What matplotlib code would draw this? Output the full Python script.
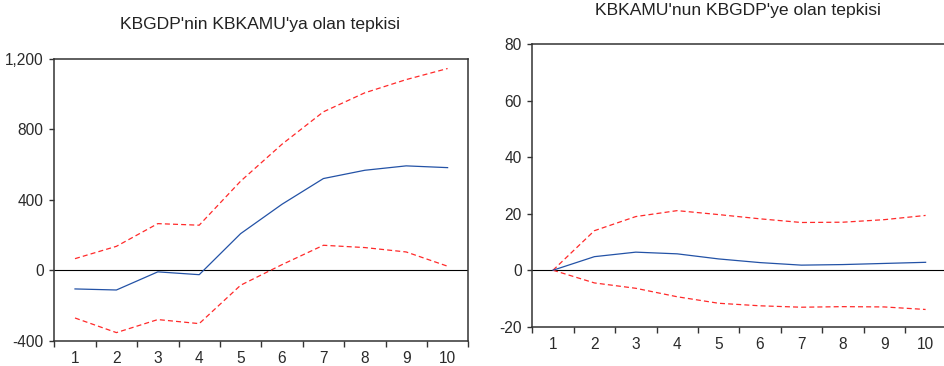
import matplotlib
matplotlib.use("Agg")
import matplotlib.pyplot as plt
from matplotlib.ticker import FuncFormatter, FixedLocator
import numpy as np

plt.rcParams['font.family'] = ['Liberation Sans', 'DejaVu Sans']

periods = [1, 2, 3, 4, 5, 6, 7, 8, 9, 10]

left_title = "KBGDP'nin KBKAMU'ya olan tepkisi"
left_resp = [-106, -112, -9, -25, 208, 375, 521, 568, 593, 583]
left_upper = [66, 136, 265, 256, 506, 716, 900, 1008, 1083, 1146]
left_lower = [-271, -354, -280, -303, -85, 32, 142, 129, 104, 23]
left_yticks = [-400, 0, 400, 800, 1200]

right_title = "KBKAMU'nun KBGDP'ye olan tepkisi"
right_resp = [0, 4.8, 6.4, 5.8, 4.0, 2.7, 1.8, 2.0, 2.4, 2.8]
right_upper = [0, 14.0, 19.0, 21.1, 19.7, 18.2, 16.9, 17.0, 17.9, 19.4]
right_lower = [0, -4.5, -6.4, -9.4, -11.7, -12.6, -13.1, -12.9, -13.0, -13.9]
right_yticks = [-20, 0, 20, 40, 60, 80]

W, H = 944, 366
fig = plt.figure(figsize=(W / 100, H / 100), dpi=100)

blue = '#2352a6'
red = '#ff2a2a'
spine_c = '#333333'
txt_c = '#2a2a2a'


def panel(rect, resp, up, lo, yticks, title, title_xy):
    ax = fig.add_axes(rect)
    x = np.array(periods)
    ax.plot(x, up, color=red, lw=0.9, dashes=(4, 2.5))
    ax.plot(x, lo, color=red, lw=0.9, dashes=(4, 2.5))
    ax.plot(x, resp, color=blue, lw=0.9)
    ax.axhline(0, color='black', lw=0.8, zorder=1)
    ax.set_xlim(0.5, 10.5)
    ax.set_ylim(yticks[0], yticks[-1])
    ax.set_yticks(yticks)
    ax.yaxis.set_major_formatter(FuncFormatter(lambda v, p: f"{v:,.0f}"))
    ax.set_xticks(periods)
    ax.xaxis.set_minor_locator(FixedLocator(np.arange(0.5, 11, 1.0)))
    ax.tick_params(axis='x', which='major', length=0, pad=7.5, labelsize=11.2, labelcolor=txt_c)
    ax.tick_params(axis='x', which='minor', length=4.3, width=1.0, color=spine_c, direction='out')
    ax.tick_params(axis='y', which='major', length=3.6, width=1.0, color=spine_c, pad=4.0,
                   labelsize=11.2, labelcolor=txt_c)
    for s in ax.spines.values():
        s.set_color(spine_c)
        s.set_linewidth(1.1)
    fig.text(title_xy[0], title_xy[1], title, ha='center', va='baseline',
             fontsize=12.6, color='#222222')
    return ax


panel([54.3 / W, (H - 340.7) / H, 414 / W, (340.7 - 59) / H],
      left_resp, left_upper, left_lower, left_yticks, left_title,
      (260 / W, 1 - 29.3 / H))
panel([532.3 / W, (H - 326.7) / H, 414 / W, (326.7 - 44.3) / H],
      right_resp, right_upper, right_lower, right_yticks, right_title,
      (738 / W, 1 - 15 / H))

fig.savefig('out.png', dpi=100)
